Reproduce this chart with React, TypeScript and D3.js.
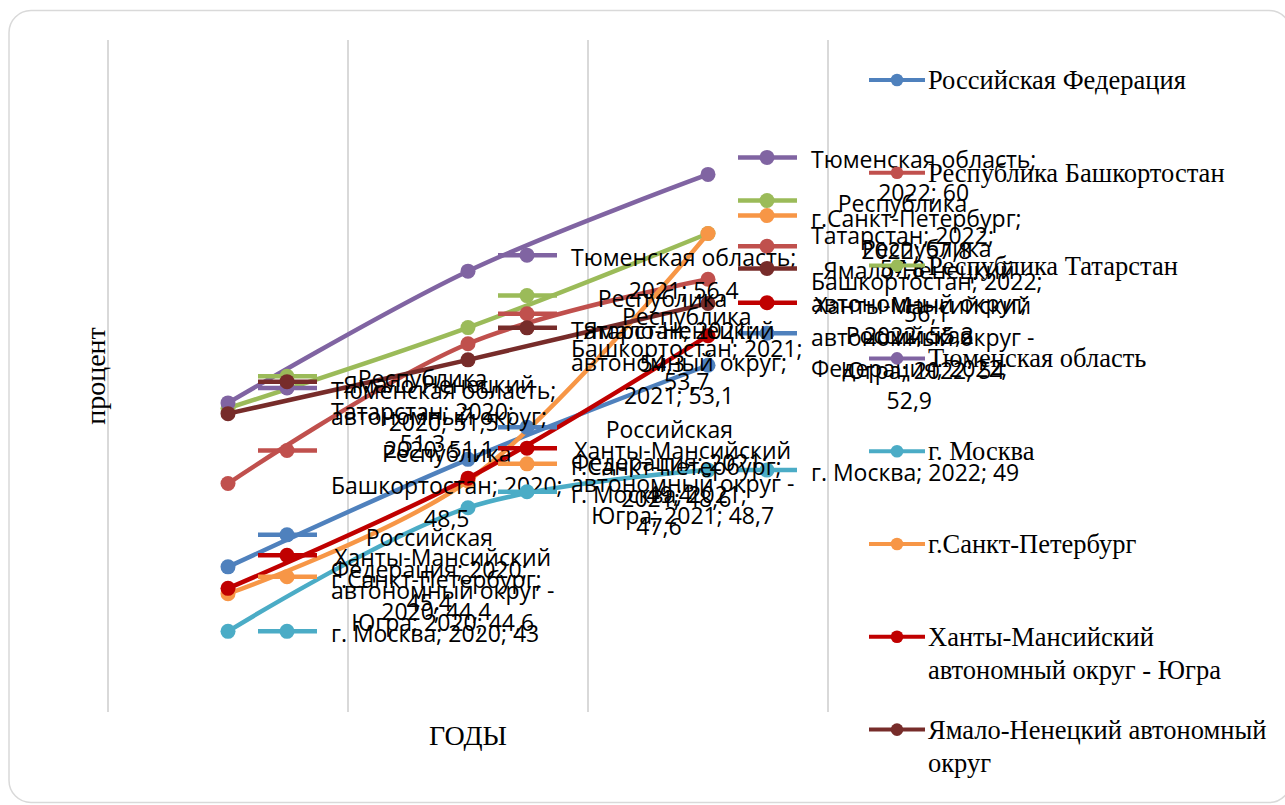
import React from "react";
import * as d3 from "d3";

// ---------- data ----------
const years = ["2020", "2021", "2022"];
const seriesNames = [
  "Российская Федерация",
  "Республика Башкортостан",
  "Республика Татарстан",
  "Тюменская область",
  "г. Москва",
  "г.Санкт-Петербург",
  "Ханты-Мансийский автономный округ - Югра",
  "Ямало-Ненецкий автономный округ",
];
const russia = [45.4, 49.4, 52.9];
const bashkortostan = [48.5, 53.7, 56.1];
const tatarstan = [51.3, 54.3, 57.8];
const tyumen = [51.5, 56.4, 60];
const moscow = [43, 47.6, 49];
const spb = [44.4, 48.6, 57.8];
const khmao = [44.6, 48.7, 54];
const yamal = [51.1, 53.1, 55.2];
const seriesValues = [russia, bashkortostan, tatarstan, tyumen, moscow, spb, khmao, yamal];
const seriesColors = ["#4F81BD", "#C0504D", "#9BBB59", "#8064A2", "#4BACC6", "#F79646", "#C00000", "#772C2A"];
const yDomain = [40, 65];
const yAxisTitle = "процент";
const xAxisTitle = "ГОДЫ";

// ---------- layout ----------
const W = 1285;
const H = 805;
const PLOT = { left: 108, right: 828, top: 40, bottom: 712 };
const LABEL_FONT = "'Open Sans', 'DejaVu Sans', sans-serif";
const LABEL_SIZE = 23;
const LABEL_MAXCH = 20;
const LABEL_LINE = 32.5;
const SERIF = "'Liberation Serif', 'Times New Roman', serif";
const LEGEND_SIZE = 26.5;
const LEGEND_MAXCH = 25;
const TITLE_SIZE = 28;
// label key offset from the data point (dx, dy per series & year)
const labelDx = 59;
const labelDy = [
  [-32, -32, -32],
  [-33, -30, -33],
  [-32, -32, -33],
  [-15, -16, -17],
  [0, -16, 0],
  [-17, -17, -18],
  [-33, -30, -33],
  [-32, -32, -35],
];

let _ctx: CanvasRenderingContext2D | null = null;
function measure(s: string, font: string) {
  if (!_ctx) _ctx = document.createElement("canvas").getContext("2d");
  _ctx!.font = font;
  return _ctx!.measureText(s).width;
}

function wrap(text: string, maxCh: number) {
  const words = text.split(" ");
  const lines: string[] = [];
  let cur = "";
  for (const w of words) {
    const t = cur ? cur + " " + w : w;
    if (cur && t.length > maxCh) {
      lines.push(cur);
      cur = w;
    } else cur = t;
  }
  if (cur) lines.push(cur);
  return lines;
}

const fmt = (v: number) => String(v).replace(".", ",");

export default function App() {
  const x = d3.scaleBand<string>().domain(years).range([PLOT.left, PLOT.right]);
  const y = d3.scaleLinear().domain(yDomain).range([PLOT.bottom, PLOT.top]);
  const px = (yr: string) => (x(yr) as number) + x.bandwidth() / 2;

  const line = d3
    .line<number>()
    .x((_, i) => px(years[i]))
    .y((d) => y(d))
    .curve(d3.curveCatmullRom.alpha(0.5));

  const labelFontStr = `${LABEL_SIZE}px ${LABEL_FONT}`;
  const gridXs = [...years.map((yr) => x(yr) as number), PLOT.right];

  const labels: any[] = [];
  seriesValues.forEach((vals, si) => {
    vals.forEach((v, yi) => {
      const kx = px(years[yi]) + labelDx;
      const ky = y(v) + labelDy[si][yi];
      const txt = `${seriesNames[si]}; ${years[yi]}; ${fmt(v)}`;
      const lines = wrap(txt, LABEL_MAXCH);
      const bw = Math.max(...lines.map((s) => measure(s, labelFontStr)));
      labels.push({ si, yi, kx, ky, lines, cx: kx + 44 + bw / 2 });
    });
  });

  const legendX = 897;
  const legendTop = 80;
  const legendStep = 92.8;

  return (
    <svg width={W} height={H} style={{ position: "absolute", left: 0, top: 0, background: "#fff" }}>
      <rect x={9} y={10.5} width={1282} height={792} rx={22} ry={22} fill="#fff" stroke="#d9d9d9" strokeWidth={1.5} />
      {gridXs.map((gx, i) => (
        <line key={i} x1={gx} x2={gx} y1={PLOT.top} y2={PLOT.bottom} stroke="#d9d9d9" strokeWidth={2} />
      ))}
      {/* series lines */}
      {seriesValues.map((vals, si) => (
        <g key={si}>
          <path d={line(vals) || ""} fill="none" stroke={seriesColors[si]} strokeWidth={4.5} strokeLinecap="round" />
          {vals.map((v, yi) => (
            <circle key={yi} cx={px(years[yi])} cy={y(v)} r={7.5} fill={seriesColors[si]} />
          ))}
        </g>
      ))}
      {/* data labels with legend keys */}
      {labels.map((l, i) => (
        <g key={i}>
          <line x1={l.kx - 29} x2={l.kx + 30} y1={l.ky} y2={l.ky} stroke={seriesColors[l.si]} strokeWidth={4.5} />
          <circle cx={l.kx} cy={l.ky} r={7.5} fill={seriesColors[l.si]} />
          <text
            x={l.cx}
            y={l.ky + 2}
            fontFamily={LABEL_FONT}
            fontSize={LABEL_SIZE}
            fill="#000"
            textAnchor="middle"
            dominantBaseline="central"
          >
            {l.lines.map((ln: string, j: number) => (
              <tspan key={j} x={l.cx} dy={j === 0 ? 0 : LABEL_LINE}>
                {ln}
              </tspan>
            ))}
          </text>
        </g>
      ))}
      {/* axis titles */}
      <text
        transform={`translate(95,376) rotate(-90)`}
        fontFamily={SERIF}
        fontSize={TITLE_SIZE}
        textAnchor="middle"
        dominantBaseline="central"
        fill="#000"
      >
        {yAxisTitle}
      </text>
      <text x={468} y={735} fontFamily={SERIF} fontSize={TITLE_SIZE} textAnchor="middle" dominantBaseline="central" fill="#000">
        {xAxisTitle}
      </text>
      {/* legend */}
      {seriesNames.map((name, si) => {
        const ly = legendTop + si * legendStep;
        const lines = wrap(name, LEGEND_MAXCH);
        return (
          <g key={si}>
            <line x1={legendX - 28} x2={legendX + 28} y1={ly} y2={ly} stroke={seriesColors[si]} strokeWidth={4} />
            <circle cx={legendX} cy={ly} r={6.3} fill={seriesColors[si]} />
            <text x={legendX + 31} y={ly} fontFamily={SERIF} fontSize={LEGEND_SIZE} fill="#000" dominantBaseline="central">
              {lines.map((ln, j) => (
                <tspan key={j} x={legendX + 31} dy={j === 0 ? 0 : 33}>
                  {ln}
                </tspan>
              ))}
            </text>
          </g>
        );
      })}
    </svg>
  );
}
